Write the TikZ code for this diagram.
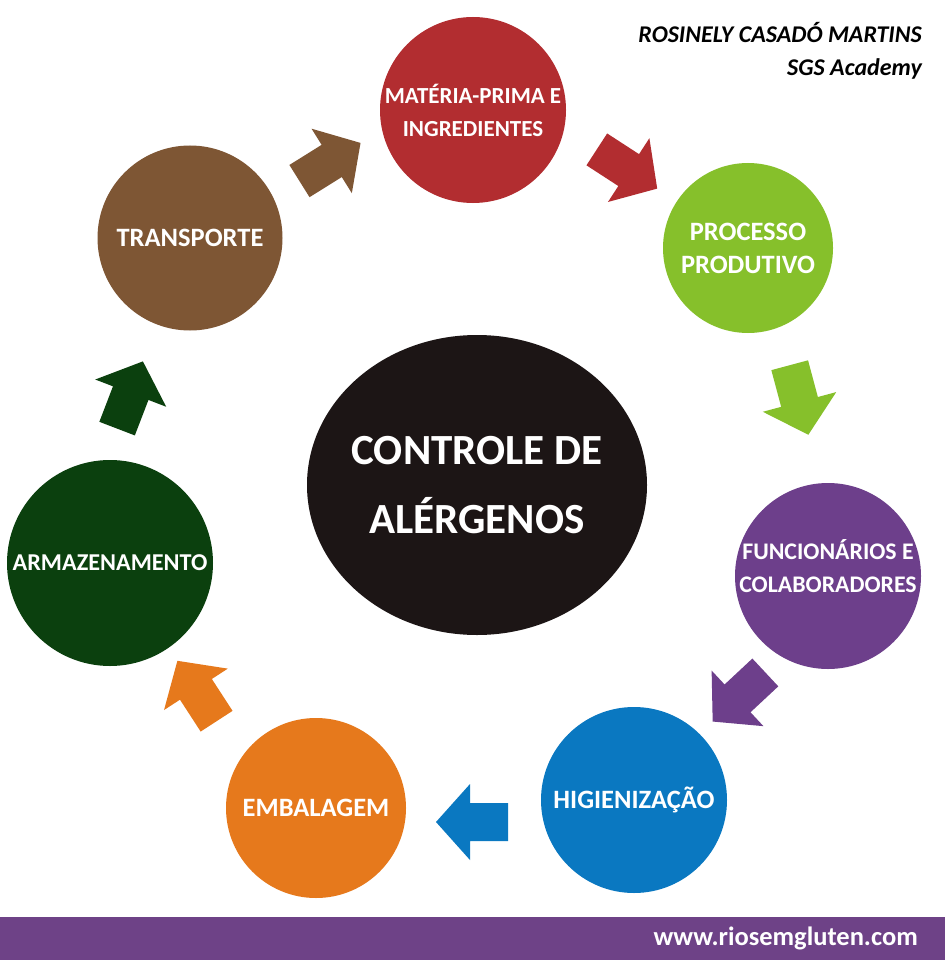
\documentclass[tikz,border=0pt]{standalone}
\usepackage{fontspec}
\usetikzlibrary{shapes.geometric}
\setmainfont{Carlito}
\definecolor{cred}{HTML}{B22D30}
\definecolor{cgreen}{HTML}{86C02B}
\definecolor{cpurple}{HTML}{6D3F8B}
\definecolor{cblue}{HTML}{0A78C1}
\definecolor{corange}{HTML}{E6791C}
\definecolor{cdgreen}{HTML}{0B400E}
\definecolor{cbrown}{HTML}{7E5634}
\definecolor{cblack}{HTML}{1C1515}
\definecolor{cbar}{HTML}{6E4287}
\tikzset{
  stage/.style={circle, minimum size=#1, inner sep=0pt},
  lbl/.style={inner sep=0pt, text=white, align=center, font=\bfseries\fontsize{#1}{33}\selectfont},
  blockarrow/.pic={\fill (-36,-19) -- (2,-19) -- (2,-38) -- (36,0) -- (2,38) -- (2,19) -- (-36,19) -- cycle;}
}
\begin{document}
\begin{tikzpicture}[x=1pt,y=-1pt]
\useasboundingbox (0,0) rectangle (945,960);
\fill[white] (0,0) rectangle (945,960);
% bottom bar
\fill[cbar] (0,917) rectangle (945,960);
\node[anchor=base east, inner sep=0pt, text=white, font=\bfseries\fontsize{26.5}{30}\selectfont] (web) at (918,945) {www.riosemgluten.com};
% author
\node[anchor=north east, align=right, inner sep=0pt, font=\bfseries\itshape\fontsize{24}{33}\selectfont] (author) at (922,22) {ROSINELY CASADÓ MARTINS\\SGS Academy};
% center
\node[ellipse, fill=cblack, minimum width=340, minimum height=300, inner sep=0pt] (center) at (477,485) {};
\node[inner sep=0pt, text=white, align=center, font=\bfseries\fontsize{43}{69}\selectfont] (centertext) at (center) {CONTROLE DE\\ALÉRGENOS};
% stages
\node[stage=186, fill=cred] (mp) at (473,110) {};
\node[lbl=23] (mpt) at (mp) {MATÉRIA-PRIMA E\\INGREDIENTES};
\node[stage=170, fill=cgreen] (pp) at (748,248) {};
\node[lbl=26.5] (ppt) at (pp) {PROCESSO\\PRODUTIVO};
\node[stage=186, fill=cpurple] (fc) at (828,576) {};
\node[lbl=23.8] (fct) at (828,566) {FUNCIONÁRIOS E\\COLABORADORES};
\node[stage=186, fill=cblue] (hg) at (634,800) {};
\node[lbl=26.5] (hgt) at (hg) {HIGIENIZAÇÃO};
\node[stage=180, fill=corange] (em) at (316,808) {};
\node[lbl=26.5] (emt) at (em) {EMBALAGEM};
\node[stage=206, fill=cdgreen] (ar) at (110,563) {};
\node[lbl=24.2] (art) at (ar) {ARMAZENAMENTO};
\node[stage=185, fill=cbrown] (tr) at (190,238) {};
\node[lbl=26.5] (trt) at (tr) {TRANSPORTE};
% arrows
\pic[fill=cbrown, rotate=32] at (330,162) {blockarrow};
\pic[fill=cred, rotate=-33] at (627,169) {blockarrow};
\pic[fill=cgreen, rotate=-75] at (799,400) {blockarrow};
\pic[fill=cpurple, rotate=-137] at (739,697) {blockarrow};
\pic[fill=cblue, rotate=180] at (472,822) {blockarrow};
\pic[fill=corange, rotate=123] at (197,691) {blockarrow};
\pic[fill=cdgreen, rotate=69] at (130,395) {blockarrow};
\end{tikzpicture}
\end{document}
